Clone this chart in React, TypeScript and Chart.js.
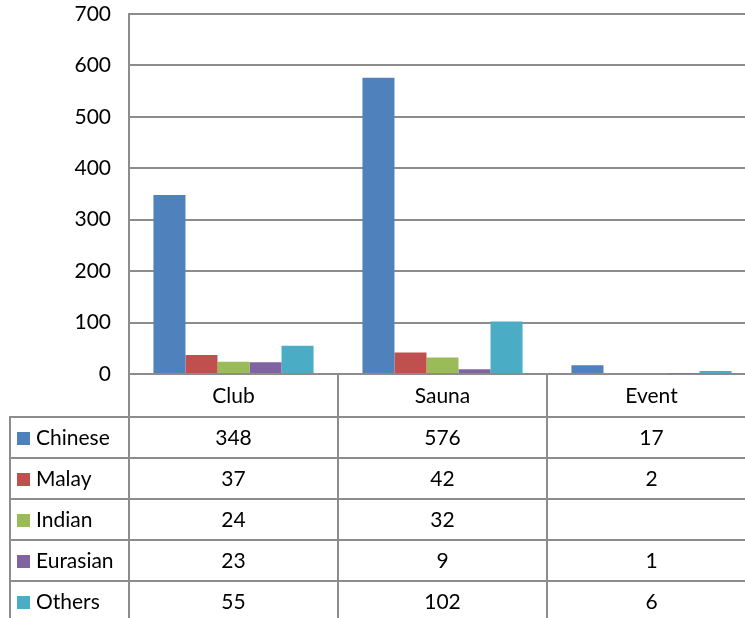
import React, { useEffect, useRef } from "react";
import { Chart, registerables } from "chart.js";

Chart.register(...registerables);

const categories = ["Club", "Sauna", "Event"];
const seriesNames = ["Chinese", "Malay", "Indian", "Eurasian", "Others"];
const chinese = [348, 576, 17];
const malay = [37, 42, 2];
const indian: (number | null)[] = [24, 32, null];
const eurasian = [23, 9, 1];
const others = [55, 102, 6];
const seriesColors = ["#4F81BD", "#C0504D", "#9BBB59", "#8064A2", "#4BACC6"];
const yMax = 700;
const yStep = 100;

const FONT = "Lato, 'Open Sans', sans-serif";
const LINE = "#8c8c8c";
const TEXT = "#000";

const tablePlugin = {
  id: "dataTable",
  afterDraw(chart: any) {
    const { ctx, chartArea } = chart;
    const x = chart.scales.x;
    const series = [chinese, malay, indian, eurasian, others];
    const step = x.getPixelForValue(1) - x.getPixelForValue(0);
    const left = chartArea.left;
    const right = chartArea.right;
    const top = chartArea.bottom;
    const headerH = 43;
    const rowH = 41;
    const tableLeft = 10;
    const bottom = top + headerH + rowH * series.length;

    ctx.save();
    ctx.strokeStyle = LINE;
    ctx.lineWidth = 2;
    ctx.beginPath();
    for (let i = 0; i <= categories.length; i++) {
      const px = Math.round(left + step * i);
      ctx.moveTo(px, top);
      ctx.lineTo(px, bottom);
    }
    ctx.moveTo(tableLeft, top + headerH);
    ctx.lineTo(tableLeft, bottom);
    for (let r = 0; r <= series.length; r++) {
      const py = top + headerH + rowH * r;
      ctx.moveTo(tableLeft - 1, py);
      ctx.lineTo(right, py);
    }
    ctx.stroke();

    ctx.fillStyle = TEXT;
    ctx.font = `21px ${FONT}`;
    ctx.textBaseline = "middle";
    ctx.textAlign = "center";
    categories.forEach((c, i) => {
      ctx.fillText(c, x.getPixelForValue(i), top + headerH / 2 + 1);
    });
    series.forEach((vals, r) => {
      const cy = top + headerH + rowH * r + rowH / 2 + 1;
      ctx.fillStyle = seriesColors[r];
      ctx.fillRect(17, Math.round(cy - 7), 13, 13);
      ctx.fillStyle = TEXT;
      ctx.textAlign = "left";
      ctx.fillText(seriesNames[r], 36, cy);
      ctx.textAlign = "center";
      vals.forEach((v, i) => {
        if (v !== null && v !== undefined) ctx.fillText(String(v), x.getPixelForValue(i), cy);
      });
    });
    ctx.restore();
  },
};

export default function App() {
  const ref = useRef<HTMLCanvasElement>(null);
  useEffect(() => {
    if (!ref.current) return;
    const series = [chinese, malay, indian, eurasian, others];
    const chart = new Chart(ref.current, {
      type: "bar",
      data: {
        labels: categories,
        datasets: series.map((d, i) => ({
          label: seriesNames[i],
          data: d,
          backgroundColor: seriesColors[i],
          borderWidth: 0,
          categoryPercentage: 0.766,
          barPercentage: 1,
        })),
      },
      options: {
        responsive: false,
        animation: false,
        devicePixelRatio: 1,
        layout: { padding: { top: 14, right: 9, left: 0, bottom: 0 } },
        plugins: { legend: { display: false }, tooltip: { enabled: false } },
        scales: {
          x: {
            grid: { display: false },
            border: { display: true, color: LINE, width: 2 },
            ticks: { display: false },
            afterFit: (s: any) => {
              s.height = 625 - 374;
              s.paddingLeft = 0;
              s.paddingRight = 0;
            },
          },
          y: {
            min: 0,
            max: yMax,
            ticks: {
              stepSize: yStep,
              padding: 18,
              color: TEXT,
              font: { family: FONT, size: 21 },
            },
            grid: { color: LINE, lineWidth: 2, drawTicks: false },
            border: { display: true, color: LINE, width: 2 },
            afterFit: (s: any) => {
              s.width = 129;
              s.paddingTop = 0;
              s.paddingBottom = 0;
            },
          },
        },
      },
      plugins: [tablePlugin],
    });
    return () => chart.destroy();
  }, []);
  return (
    <div style={{ position: "absolute", left: 0, top: 0, width: 745, height: 618, overflow: "hidden", background: "#fff" }}>
      <canvas ref={ref} width={765} height={625} style={{ width: 765, height: 625, display: "block" }} />
    </div>
  );
}
